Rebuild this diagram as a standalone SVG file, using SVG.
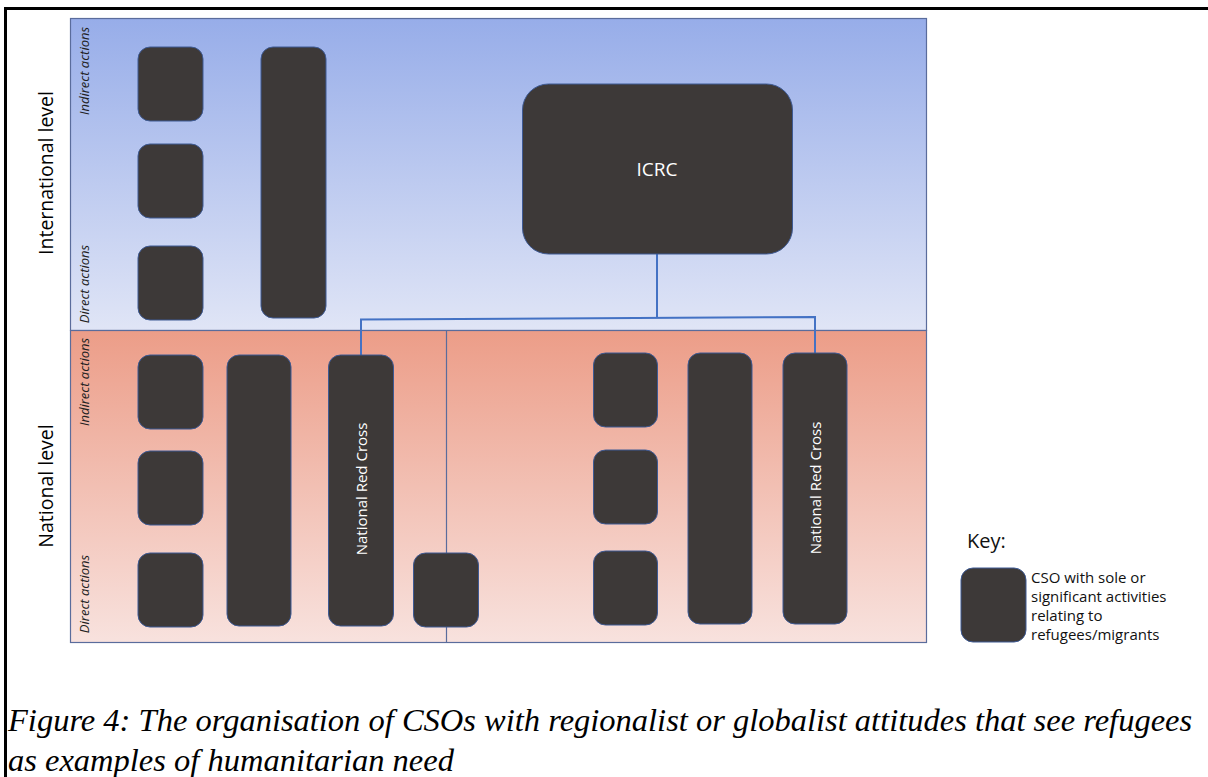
<svg xmlns="http://www.w3.org/2000/svg" width="1208" height="777" viewBox="0 0 1208 777">
<defs>
<linearGradient id="gInt" x1="0" y1="0" x2="0" y2="1">
<stop offset="0" stop-color="#97ade9"/>
<stop offset="1" stop-color="#e0e5f6"/>
</linearGradient>
<linearGradient id="gNat" x1="0" y1="0" x2="0" y2="1">
<stop offset="0" stop-color="#ec9d88"/>
<stop offset="1" stop-color="#f8e2de"/>
</linearGradient>
<style>
.cso{fill:#3d3938;stroke:#3e5a94;stroke-width:1}
.panel{stroke:#5a6c9c;stroke-width:1.2}
.lvl{font-family:"Open Sans",sans-serif;font-size:19.5px;fill:#000}
.act{font-family:"Open Sans",sans-serif;font-style:italic;font-size:13px;fill:#222}
.wt{font-family:"Open Sans",sans-serif;fill:#fff}
.key{font-family:"Open Sans",sans-serif;font-size:15px;fill:#111}
.conn{fill:none;stroke:#4472c4;stroke-width:2}
.cap{font-family:"Liberation Serif",serif;font-style:italic;font-size:32.5px;fill:#000}
</style>
</defs>
<rect width="1208" height="777" fill="#fff"/>
<!-- outer frame -->
<path d="M5.5,777 V8.5 H1208" fill="none" stroke="#000" stroke-width="3"/>

<!-- panels -->
<g id="panel-international">
<rect class="panel" x="70.5" y="18.5" width="856" height="312" fill="url(#gInt)"/>
</g>
<g id="panel-national">
<rect class="panel" x="70.5" y="330.5" width="856" height="312" fill="url(#gNat)"/>
<line class="panel" x1="446.5" y1="330.5" x2="446.5" y2="642.5"/>
</g>

<!-- side labels -->
<text class="lvl" transform="translate(53,173) rotate(-90)" text-anchor="middle">International level</text>
<text class="lvl" transform="translate(53,486) rotate(-90)" text-anchor="middle">National level</text>
<text class="act" transform="translate(89,71) rotate(-90)" text-anchor="middle">Indirect actions</text>
<text class="act" transform="translate(89,284) rotate(-90)" text-anchor="middle">Direct actions</text>
<text class="act" transform="translate(89,382) rotate(-90)" text-anchor="middle">Indirect actions</text>
<text class="act" transform="translate(89,594) rotate(-90)" text-anchor="middle">Direct actions</text>

<!-- connectors -->
<g id="connectors">
<path class="conn" d="M657,254 V318"/>
<path class="conn" d="M361,355 V319.5 L815,317 V353"/>
</g>

<!-- international nodes -->
<g id="int-s1"><rect class="cso" x="138" y="47" width="65" height="74" rx="12"/></g>
<g id="int-s2"><rect class="cso" x="138" y="144" width="65" height="74" rx="12"/></g>
<g id="int-s3"><rect class="cso" x="138" y="246" width="65" height="74" rx="12"/></g>
<g id="int-tall"><rect class="cso" x="261" y="47" width="65" height="271" rx="12"/></g>
<g id="icrc">
<rect class="cso" x="522.5" y="84" width="270" height="170" rx="26"/>
<text class="wt" x="657" y="176" font-size="19" text-anchor="middle">ICRC</text>
</g>

<!-- national left -->
<g id="nl-s1"><rect class="cso" x="138" y="355" width="65" height="74" rx="12"/></g>
<g id="nl-s2"><rect class="cso" x="138" y="451" width="65" height="74" rx="12"/></g>
<g id="nl-s3"><rect class="cso" x="138" y="553" width="65" height="74" rx="12"/></g>
<g id="nl-tall"><rect class="cso" x="227" y="355" width="64" height="271" rx="12"/></g>
<g id="nl-nrc">
<rect class="cso" x="328.5" y="355" width="65" height="271" rx="12"/>
<text class="wt" font-size="15" transform="translate(366.5,489) rotate(-90)" text-anchor="middle">National Red Cross</text>
</g>
<g id="nl-shared"><rect class="cso" x="413.5" y="553" width="65" height="74" rx="12"/></g>

<!-- national right -->
<g id="nr-s1"><rect class="cso" x="593.5" y="353" width="64" height="74" rx="12"/></g>
<g id="nr-s2"><rect class="cso" x="593.5" y="450" width="64" height="74" rx="12"/></g>
<g id="nr-s3"><rect class="cso" x="593.5" y="551" width="64" height="74" rx="12"/></g>
<g id="nr-tall"><rect class="cso" x="688" y="353" width="64" height="271" rx="12"/></g>
<g id="nr-nrc">
<rect class="cso" x="783" y="353" width="64" height="271" rx="12"/>
<text class="wt" font-size="15" transform="translate(820.5,488) rotate(-90)" text-anchor="middle">National Red Cross</text>
</g>

<!-- key -->
<g id="key">
<text x="967" y="548" font-family="Open Sans, sans-serif" font-size="20" fill="#111">Key:</text>
<rect class="cso" x="961" y="568" width="65" height="74" rx="12"/>
<text class="key" x="1031" y="583">CSO with sole or</text>
<text class="key" x="1031" y="602">significant activities</text>
<text class="key" x="1031" y="621">relating to</text>
<text class="key" x="1031" y="640">refugees/migrants</text>
</g>

<!-- caption -->
<text class="cap" x="8" y="731">Figure 4: The organisation of CSOs with regionalist or globalist attitudes that see refugees</text>
<text class="cap" x="8" y="771">as examples of humanitarian need</text>
</svg>
